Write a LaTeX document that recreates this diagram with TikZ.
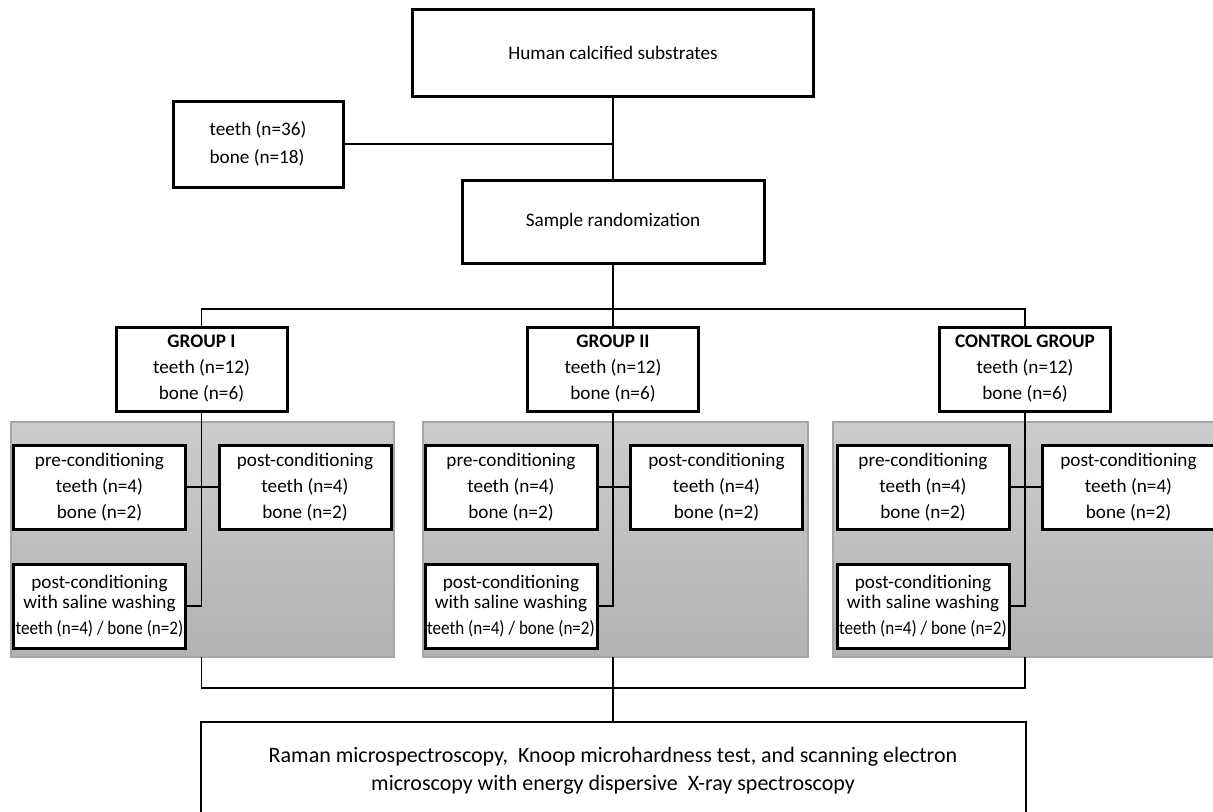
\documentclass[tikz,border=0pt]{standalone}
\usepackage{fontspec}
\setmainfont{Carlito}

\begin{document}
\begin{tikzpicture}[x=0.5pt, y=-0.5pt]
	\tikzstyle{Box}   = [draw, line width=1.5pt, fill=white, align=center, inner sep=0pt, font=\fontsize{9.6}{13}\selectfont]
	\tikzstyle{Group} = [Box, minimum width=85.5pt, minimum height=42pt]
	\tikzstyle{Cond}  = [Box, minimum width=86pt, minimum height=42pt]
	\tikzstyle{Panel} = [draw=black!35, line width=0.6pt, top color=black!20, bottom color=black!30]
	\tikzstyle{Link}  = [line width=0.9pt]

	\useasboundingbox (0,0) rectangle (1213,811);

	% gray panels behind the sub-groups
	\draw [Panel] (11,422) rectangle (394,657);
	\draw [Panel] (423,422) rectangle (808,657);
	\draw [Panel] (833,422) rectangle (1218,657);

	\node (hcs) at (613,52.5) [Box, minimum width=200.5pt, minimum height=43.5pt] {Human calcified substrates};
	\node (tb) at (258,144) [Box, minimum width=85pt, minimum height=43pt, align=left] {teeth (n=36)\\[1pt]bone (n=18)};
	\node (rand) at (613,221.5) [Box, minimum width=151pt, minimum height=41.5pt] {Sample randomization};

	\node (g1) at (201.5,369) [Group] {\textbf{GROUP I}\\teeth (n=12)\\bone (n=6)};
	\node (g2) at (613,369) [Group] {\textbf{GROUP II}\\teeth (n=12)\\bone (n=6)};
	\node (g3) at (1025,369) [Group] {\textbf{CONTROL GROUP}\\teeth (n=12)\\bone (n=6)};

	\node (pre1) at (99.5,487) [Cond] {pre-conditioning\\teeth (n=4)\\bone (n=2)};
	\node (post1) at (305,487) [Cond] {post-conditioning\\teeth (n=4)\\bone (n=2)};
	\node (sal1) at (99.5,606) [Cond] {post-conditioning\\[-3pt]with saline washing\\\scalebox{0.89}[1]{teeth (n=4) / bone (n=2)}};

	\node (pre2) at (511,487) [Cond] {pre-conditioning\\teeth (n=4)\\bone (n=2)};
	\node (post2) at (716.5,487) [Cond] {post-conditioning\\teeth (n=4)\\bone (n=2)};
	\node (sal2) at (511,606) [Cond] {post-conditioning\\[-3pt]with saline washing\\\scalebox{0.89}[1]{teeth (n=4) / bone (n=2)}};

	\node (pre3) at (923,487) [Cond] {pre-conditioning\\teeth (n=4)\\bone (n=2)};
	\node (post3) at (1128.5,487) [Cond] {post-conditioning\\teeth (n=4)\\bone (n=2)};
	\node (sal3) at (923,606) [Cond] {post-conditioning\\[-3pt]with saline washing\\\scalebox{0.89}[1]{teeth (n=4) / bone (n=2)}};

	\node (tests) at (613,771) [Box, line width=1pt, minimum width=412.5pt, minimum height=49pt, font=\fontsize{11}{14}\selectfont] {Raman microspectroscopy,\ \ Knoop microhardness\ test, and scanning\ electron\\microscopy\ with energy dispersive\ \ X-ray spectroscopy};

	\coordinate (bus) at (613,309);
	\coordinate (pb1) at (201.5,657);
	\coordinate (pb2) at (613,657);
	\coordinate (pb3) at (1025,657);
	\coordinate (fbus) at (613,688);

	\draw [Link] (hcs) -- (rand);
	\draw [Link] (tb) -- (tb -| hcs);
	\draw [Link] (rand) -- (g2);
	\draw [Link] (g1) |- (bus) -| (g3);

	\draw [Link] (g1) |- (sal1);
	\draw [Link] (pre1) -- (post1);
	\draw [Link] (g2) |- (sal2);
	\draw [Link] (pre2) -- (post2);
	\draw [Link] (g3) |- (sal3);
	\draw [Link] (pre3) -- (post3);

	\draw [Link] (pb1) |- (fbus) -| (pb3);
	\draw [Link] (pb2) -- (tests);
\end{tikzpicture}
\end{document}
